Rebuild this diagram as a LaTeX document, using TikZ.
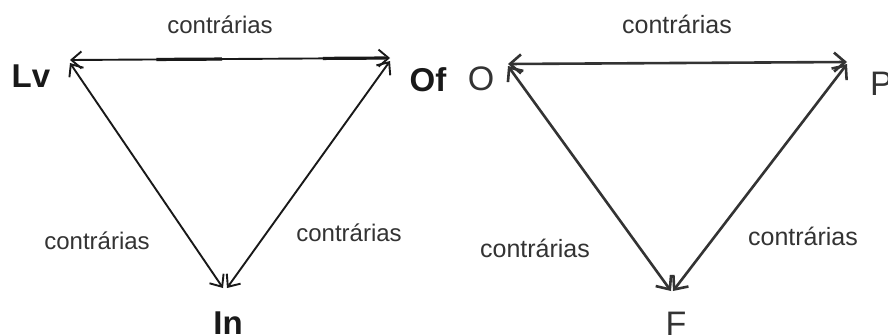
\documentclass[tikz,border=0pt]{standalone}
\usepackage{fontspec}
\setmainfont{Liberation Sans}
\usetikzlibrary{arrows.meta,calc}
\tikzset{
  lbl/.style={anchor=base, inner sep=0pt, text=black!80, font=\fontsize{24}{24}\selectfont},
  lblB/.style={anchor=base, inner sep=0pt, text=black!80, font=\fontsize{25}{25}\selectfont},
  vtxbold/.style={anchor=base, inner sep=0pt, text=black!90, font=\fontsize{33}{33}\selectfont\bfseries},
  vtx/.style={anchor=base, inner sep=0pt, text=black!80, font=\fontsize{34}{34}\selectfont},
  conA/.style={line width=1.9pt, black!90, {Straight Barb[length=10pt,width=17pt,line width=1.9pt]}-{Straight Barb[length=10pt,width=17pt,line width=1.9pt]}},
  conB/.style={line width=2.6pt, black!80, {Straight Barb[length=11pt,width=19pt,line width=2.6pt]}-{Straight Barb[length=11pt,width=19pt,line width=2.6pt]}},
}
\begin{document}
\begin{tikzpicture}[x=1pt,y=-1pt]
\useasboundingbox[fill=white] (0,0) rectangle (888,335);
% left triangle
\coordinate (lv) at (70,60);
\coordinate (lvb) at (70,63);
\coordinate (of) at (390,58);
\coordinate (ofb) at (390,61);
\coordinate (inl) at (223,288);
\coordinate (inr) at (227,288);
\draw[conA] (lv) -- (of);
\draw[conA] (lvb) -- (inl);
\draw[conA] (ofb) -- (inr);
\draw[line width=3.2pt, black!90] ($(lv)!0.27!(of)$) -- ($(lv)!0.475!(of)$);
\draw[line width=3.2pt, black!90] ($(lv)!0.79!(of)$) -- ($(lv)!0.985!(of)$);
\node[vtxbold] (tLv) at (31,87) {Lv};
\node[vtxbold] (tOf) at (428,91) {Of};
\node[vtxbold] (tIn) at (228,334) {In};
\node[lbl] (c1) at (220,33) {contrárias};
\node[lbl] (c2) at (97,249) {contrárias};
\node[lbl] (c3) at (349,241) {contrárias};
% right triangle
\coordinate (o) at (508,64);
\coordinate (ob) at (508,66);
\coordinate (p) at (847,62);
\coordinate (pb) at (847,64);
\coordinate (fl) at (671,291);
\coordinate (fr) at (673,291);
\draw[conB] (o) -- (p);
\draw[conB] (ob) -- (fl);
\draw[conB] (pb) -- (fr);
\node[vtx] (tO) at (481,90) {O};
\node[vtx, anchor=base west] (tP) at (870,95) {P};
\node[vtx] (tF) at (676,335) {F};
\node[lblB] (c4) at (677,33) {contrárias};
\node[lblB] (c5) at (535,257) {contrárias};
\node[lblB] (c6) at (803,245) {contrárias};
\end{tikzpicture}
\end{document}
